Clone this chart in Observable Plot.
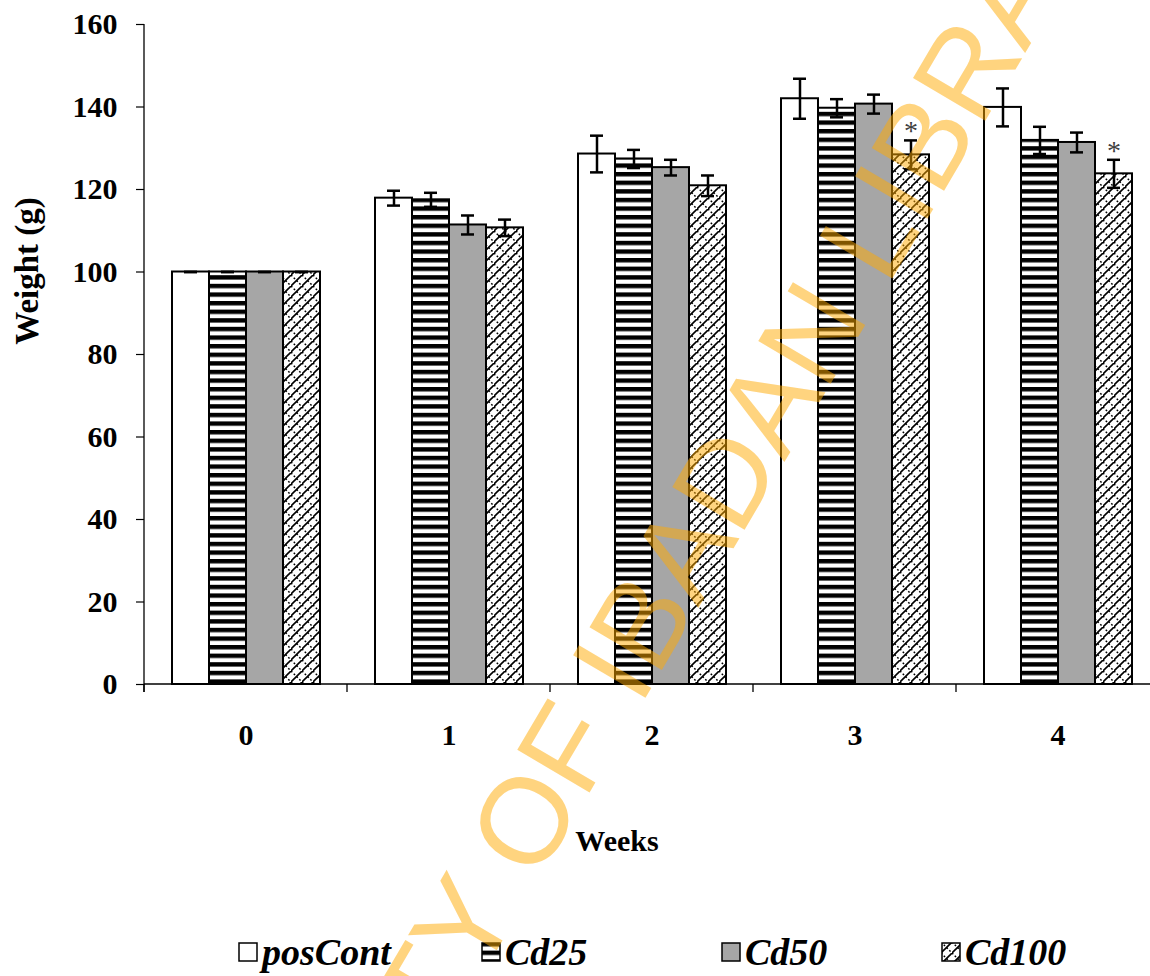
<!DOCTYPE html>
<html><head><meta charset="utf-8">
<script src="https://cdn.jsdelivr.net/npm/d3@7"></script>
<script src="https://cdn.jsdelivr.net/npm/@observablehq/plot@0.6"></script>
<style>
html,body{margin:0;padding:0;background:#fff;overflow:hidden;}
#wrap{position:relative;width:1150px;height:976px;overflow:hidden;font-family:"Liberation Serif","Times New Roman",serif;}
#wrap > svg{position:absolute;left:0;top:0;max-width:none !important;}
.leg{position:absolute;top:934px;height:36px;display:flex;align-items:center;font:bold italic 38px "Liberation Serif","Times New Roman",serif;color:#000;line-height:36px;}
.leg svg{position:static;margin-right:4px;}
#wm{position:absolute;left:0;top:0;pointer-events:none;}
</style></head><body><div id="wrap"></div>
<script>
// ---- data ----
const weeks = ["0", "1", "2", "3", "4"];
const series = ["posCont", "Cd25", "Cd50", "Cd100"];
const posCont = [100, 117.9, 128.6, 142.0, 139.9];
const posContErr = [0, 1.8, 4.45, 4.85, 4.6];
const cd25 = [100, 117.5, 127.4, 139.7, 131.9];
const cd25Err = [0, 1.7, 2.2, 2.2, 3.3];
const cd50 = [100, 111.4, 125.3, 140.7, 131.4];
const cd50Err = [0, 2.3, 1.9, 2.3, 2.4];
const cd100 = [100, 110.7, 120.9, 128.4, 123.8];
const cd100Err = [0, 2.0, 2.5, 3.5, 3.4];
const cd100Significant = [false, false, false, true, true];
const yTicks = [0, 20, 40, 60, 80, 100, 120, 140, 160];

const values = [posCont, cd25, cd50, cd100];
const errors = [posContErr, cd25Err, cd50Err, cd100Err];
const fills = ["#ffffff", "url(#p-cd25)", "#a6a6a6", "url(#p-cd100)"];

const rows = [];
weeks.forEach((w, i) => series.forEach((s, j) => rows.push({
  week: w, series: s, value: values[j][i], err: errors[j][i],
  sig: j === 3 && cd100Significant[i]
})));

const serif = '"Liberation Serif","Times New Roman",serif';

const chart = Plot.plot({
  width: 1160, height: 880,
  marginLeft: 144, marginRight: 0, marginTop: 24, marginBottom: 196,
  fx: {domain: weeks, paddingInner: 0.266, paddingOuter: 0.133, label: null, tickSize: 0, tickPadding: 39},
  x: {domain: series, padding: 0, axis: null},
  y: {domain: [0, 160], axis: null},
  color: {domain: series, range: fills},
  style: {fontFamily: serif, fontSize: "30px", fontWeight: "bold", color: "#000", background: "transparent", overflow: "visible"},
  marks: [
    Plot.axisY({ticks: yTicks, tickSize: 8, tickPadding: 19, dx: -27, label: null, strokeWidth: 1.2, stroke: "#000"}),
    Plot.barY(rows, {fx: "week", x: "series", y: "value", fill: "series", stroke: "#000", strokeWidth: 2}),
    Plot.ruleX(rows, {fx: "week", x: "series", y1: d => d.value - d.err, y2: d => d.value + d.err, stroke: "#000", strokeWidth: 2.5}),
    Plot.tickY(rows, {fx: "week", x: "series", y: d => d.value + d.err, insetLeft: 12, insetRight: 12, stroke: "#000", strokeWidth: 2.5}),
    Plot.tickY(rows, {fx: "week", x: "series", y: d => d.value - d.err, insetLeft: 12, insetRight: 12, stroke: "#000", strokeWidth: 2.5}),
    Plot.text(rows.filter(d => d.sig), {fx: "week", x: "series", y: d => d.value + d.err, text: () => "*", dy: -9, fontSize: 28, fontWeight: "normal", fill: "#404040"})
  ]
});

const svg = d3.select(chart);
// pattern definitions
svg.insert("defs", ":first-child").html(`
  <pattern id="p-cd25" patternUnits="userSpaceOnUse" width="40" height="8.6">
    <rect width="40" height="8.6" fill="#fff"/>
    <rect y="0" width="40" height="4.4" fill="#000"/>
  </pattern>
  <pattern id="p-cd100" patternUnits="userSpaceOnUse" width="11" height="11">
    <rect width="11" height="11" fill="#fff"/>
    <path d="M-1,12 L12,-1" stroke="#000" stroke-width="1.6"/>
    <path d="M0,0 L11,11" stroke="#000" stroke-width="1.5" stroke-dasharray="1.8,2.1"/>
  </pattern>`);

// axis lines (through the library's scales)
const ys = chart.scale("y"), fxs = chart.scale("fx");
const y0 = ys.apply(0), yTop = ys.apply(160);
const [xL, xR] = fxs.range;
const gap = (fxs.step - fxs.bandwidth) / 2;
const axisG = svg.append("g").attr("stroke", "#000").attr("stroke-width", 1.3);
axisG.append("line").attr("x1", xL).attr("x2", xR).attr("y1", y0).attr("y2", y0);
axisG.append("line").attr("x1", xL).attr("x2", xL).attr("y1", yTop).attr("y2", y0 + 8);
weeks.forEach(w => {
  const bx = fxs.apply(w) - gap;
  axisG.append("line").attr("x1", bx).attr("x2", bx).attr("y1", y0).attr("y2", y0 + 8);
});
axisG.append("line").attr("x1", xR - 1).attr("x2", xR - 1).attr("y1", y0).attr("y2", y0 + 8);

// axis titles
svg.append("text").attr("x", 617).attr("y", 851).attr("text-anchor", "middle")
  .attr("font-family", serif).attr("font-size", 30).attr("font-weight", "bold").text("Weeks");
svg.append("text").attr("transform", "translate(38,271) rotate(-90)").attr("text-anchor", "middle")
  .attr("font-family", serif).attr("font-size", 33).attr("font-weight", "bold").text("Weight (g)");

const wrap = document.getElementById("wrap");
wrap.appendChild(chart);

// legend
const legX = [238, 481, 721, 941];
series.forEach((s, j) => {
  const item = document.createElement("div");
  item.className = "leg";
  item.style.left = legX[j] + "px";
  const sw = d3.create("svg").attr("width", 20).attr("height", 20);
  sw.append("rect").attr("x", 1).attr("y", 1).attr("width", 18).attr("height", 18)
    .attr("fill", fills[j]).attr("stroke", "#000").attr("stroke-width", 1.5);
  item.appendChild(sw.node());
  const t = document.createElement("span");
  t.textContent = s;
  item.appendChild(t);
  wrap.appendChild(item);
});

// watermark overlay
const wm = d3.create("svg").attr("id", "wm").attr("width", 1150).attr("height", 976);
wm.append("text").attr("transform", "translate(650,690) rotate(-59.5)")
  .attr("text-anchor", "middle").attr("font-family", '"Liberation Sans",Arial,sans-serif')
  .attr("font-size", 122).attr("fill", "#ffaa00").attr("fill-opacity", 0.5)
  .text("UNIVERSITY OF IBADAN LIBRARY");
wrap.appendChild(wm.node());
</script></body></html>
